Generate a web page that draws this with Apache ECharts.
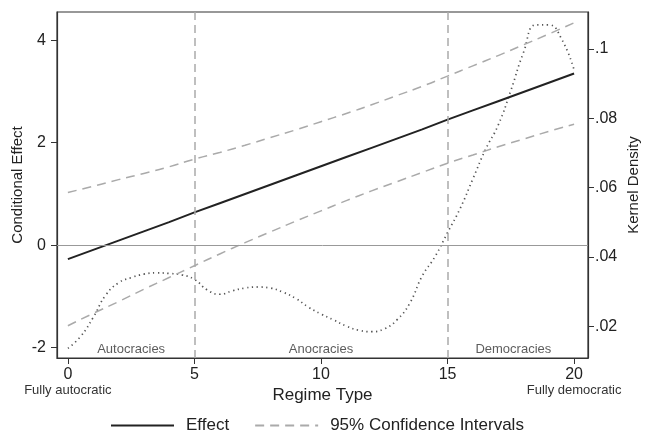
<!DOCTYPE html>
<html><head><meta charset="utf-8">
<script src="https://cdn.jsdelivr.net/npm/echarts@6/dist/echarts.min.js"></script>
<style>html,body{margin:0;padding:0;background:#fff}#c{width:650px;height:435px}</style>
</head><body><div id="c"></div>
<script>
// Regime type (x) grid
const regimeX = [0,1,2,3,4,5,6,7,8,9,10,11,12,13,14,15,16,17,18,19,20];
// Conditional effect
const effect = [-0.27,-0.09,0.09,0.27,0.45,0.64,0.82,1.00,1.18,1.36,1.54,1.72,1.90,2.08,2.26,2.45,2.63,2.81,2.99,3.17,3.35];
// 95% CI bounds
const ciUpper = [1.03,1.15,1.28,1.40,1.53,1.68,1.81,1.95,2.10,2.25,2.41,2.57,2.74,2.92,3.10,3.30,3.50,3.70,3.91,4.12,4.34];
const ciLower = [-1.57,-1.33,-1.10,-0.86,-0.63,-0.40,-0.17,0.05,0.26,0.47,0.67,0.87,1.06,1.24,1.42,1.60,1.76,1.92,2.07,2.22,2.36];
// Kernel density of regime type
const densX = [0,0.5,1,1.5,2,2.5,3,3.5,4,4.5,5,5.5,6,6.5,7,7.5,8,8.5,9,9.5,10,10.5,11,11.5,12,12.5,13,13.5,14,14.5,15,15.5,16,16.5,17,17.5,18,18.5,19,19.5,20];
const densY = [0.0136,0.017,0.0225,0.029,0.0325,0.034,0.035,0.0354,0.0352,0.0348,0.0335,0.0305,0.0292,0.0302,0.031,0.0313,0.031,0.0298,0.028,0.0255,0.0235,0.0218,0.02,0.0188,0.0184,0.0192,0.0218,0.0265,0.0345,0.04,0.047,0.054,0.0625,0.071,0.078,0.088,0.099,0.107,0.107,0.103,0.094];
// Ticks
const xTicks = [0,5,10,15,20];
const yTicksLeft = [-2,0,2,4];
const yTicksRight = [0.02,0.04,0.06,0.08,0.1];
const regionLabels = ['Autocracies','Anocracies','Democracies'];
const regionX = [2.5,10,17.6];
const cutPoints = [5,15];

const FONT = '"Liberation Sans", Arial, Helvetica, sans-serif';
const zip = (a,b) => a.map((v,i)=>[v,b[i]]);

const chart = echarts.init(document.getElementById('c'), null, {renderer:'canvas'});
chart.setOption({
  animation:false,
  textStyle:{fontFamily:FONT},
  grid:{left:57,right:62,top:12,bottom:77,show:true,borderColor:'#333',borderWidth:1.2,backgroundColor:'#fff'},
  legend:{
    top:417,left:110,padding:0,itemWidth:63,itemHeight:18,itemGap:25,
    itemStyle:{opacity:0},
    data:['Effect','95% Confidence Intervals'],
    textStyle:{fontFamily:FONT,fontSize:17,color:'#222',padding:[0,0,0,7]}
  },
  xAxis:{
    type:'value',min:-0.43,max:20.55,
    name:'Regime Type',nameLocation:'middle',nameGap:29,nameMoveOverlap:false,
    nameTextStyle:{fontFamily:FONT,fontSize:17,color:'#222'},
    axisLine:{show:true,onZero:false,lineStyle:{color:'#333',width:1.2}},
    axisTick:{show:true,customValues:xTicks,length:6,lineStyle:{color:'#333'}},
    axisLabel:{customValues:xTicks,margin:9,color:'#222',fontSize:16,fontFamily:FONT,
      formatter:v=> v===0 ? '{a|0}\n{b|Fully autocratic}' : (v===20 ? '{a|20}\n{b|Fully democratic}' : '{a|'+v+'}'),
      rich:{a:{fontSize:16,color:'#222',fontFamily:FONT,lineHeight:16},b:{fontSize:13,color:'#333',fontFamily:FONT,lineHeight:14}}},
    splitLine:{show:false}
  },
  yAxis:[{
    type:'value',min:-2.2,max:4.55,position:'left',
    name:'Conditional Effect',nameLocation:'middle',nameGap:32,nameRotate:90,nameMoveOverlap:false,
    nameTextStyle:{fontFamily:FONT,fontSize:15,color:'#222'},
    axisLine:{show:true,onZero:false,lineStyle:{color:'#333',width:1.2}},
    axisTick:{show:true,customValues:yTicksLeft,length:6,lineStyle:{color:'#333'}},
    axisLabel:{customValues:yTicksLeft,margin:11,color:'#222',fontSize:16,fontFamily:FONT},
    splitLine:{show:false}
  },{
    type:'value',min:0.0108,max:0.1107,position:'right',
    name:'Kernel Density',nameLocation:'middle',nameGap:38,nameRotate:90,nameMoveOverlap:false,
    nameTextStyle:{fontFamily:FONT,fontSize:15,color:'#222'},
    axisLine:{show:true,onZero:false,lineStyle:{color:'#333',width:1.2}},
    axisTick:{show:true,customValues:yTicksRight,length:6,lineStyle:{color:'#333'}},
    axisLabel:{customValues:yTicksRight,margin:7,color:'#222',fontSize:16,fontFamily:FONT,
      formatter:v=> String(+v.toFixed(3)).replace(/^0\./,'.')},
    splitLine:{show:false}
  }],
  series:[
    {name:'zero',type:'line',data:[],silent:true,
      markLine:{silent:true,symbol:'none',label:{show:false},
        lineStyle:{color:'#999',type:'solid',width:1},
        data:[{yAxis:0}]}},
    {name:'cuts',type:'line',data:[],silent:true,
      markLine:{silent:true,symbol:'none',label:{show:false},
        lineStyle:{color:'#aaa',type:[8,5],width:1.5},
        data:cutPoints.map(c=>({xAxis:c}))}},
    {name:'density',type:'line',yAxisIndex:1,data:zip(densX,densY),smooth:true,symbol:'none',
      lineStyle:{color:'#555',width:1.7,type:[1.3,3.5]}},
    {name:'95% Confidence Intervals',type:'line',data:zip(regimeX,ciUpper),smooth:true,symbol:'none',
      lineStyle:{color:'#aaa',width:1.5,type:[9,6]},itemStyle:{color:'#aaa'}},
    {name:'95% Confidence Intervals',type:'line',data:zip(regimeX,ciLower),smooth:true,symbol:'none',
      lineStyle:{color:'#aaa',width:1.5,type:[9,6]},itemStyle:{color:'#aaa'}},
    {name:'Effect',type:'line',data:zip(regimeX,effect),symbol:'none',
      lineStyle:{color:'#222',width:2},itemStyle:{color:'#222'}},
    {name:'regions',type:'scatter',symbolSize:0,silent:true,
      data:regionLabels.map((t,i)=>({value:[regionX[i],-2.03],name:t})),
      label:{show:true,position:'inside',formatter:p=>p.name,color:'#333',fontSize:13,fontFamily:FONT}}
  ]
});
</script></body></html>
